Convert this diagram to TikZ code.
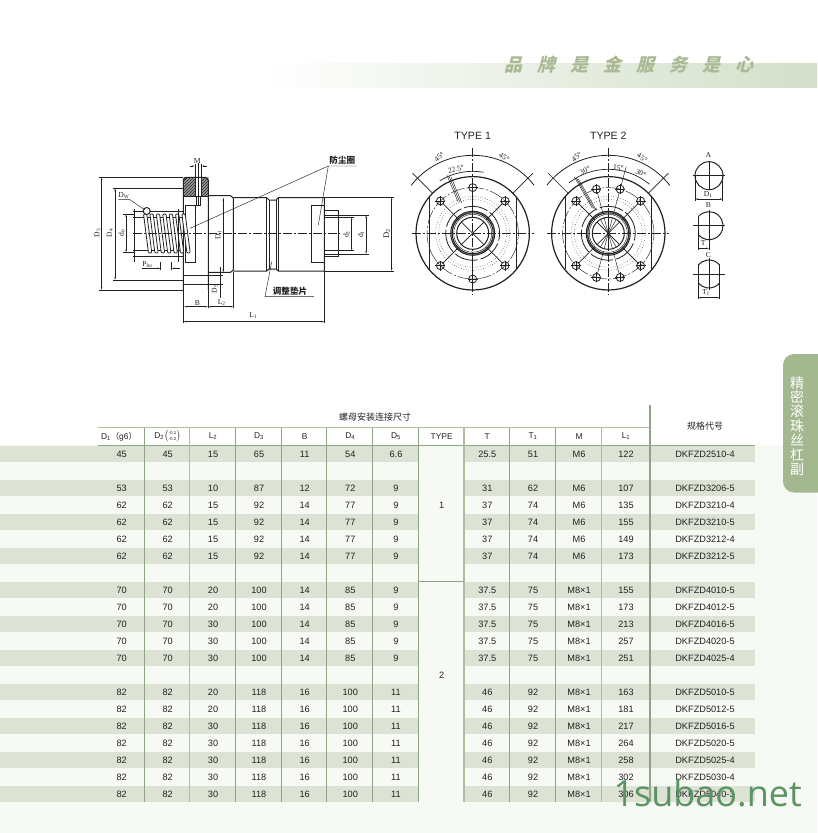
\documentclass[tikz,border=0pt]{standalone}
\usepackage{fontspec}
\setmainfont{Liberation Sans}
\newfontfamily\cjkfont{Noto Sans CJK SC}
\newfontfamily\bannerfont[LetterSpace=83]{Noto Sans CJK SC}
\newfontfamily\drawfont{Liberation Serif}
\newfontfamily\markfont{Open Sans}
\usetikzlibrary{patterns,arrows.meta,calc}
\definecolor{tint}{HTML}{F7FAF4}
\definecolor{strip}{HTML}{DCE3D5}
\definecolor{rule}{HTML}{AEBDA2}
\definecolor{ruledark}{HTML}{8FA385}
\definecolor{tabgreen}{HTML}{A3B88F}
\definecolor{bannergreen}{HTML}{D3DFC9}
\definecolor{bannertext}{HTML}{A9BA94}
\definecolor{markgreen}{HTML}{5A9463}
\definecolor{ink}{HTML}{222222}
\newcommand{\tolpair}{$\left(\vcenter{\hbox{\fontsize{4.5}{5}\selectfont\shortstack{-0.1\\-0.2}}}\right)$}
\begin{document}
\begin{tikzpicture}[x=1pt,y=1pt,>={Stealth[length=3pt,width=1.4pt]},
  cell/.style={font=\fontsize{9.2}{10}\selectfont,text=ink,inner sep=0pt},
  headcell/.style={font=\fontsize{8.4}{10}\selectfont,text=ink,inner sep=0pt},
  cjkcell/.style={font=\cjkfont\fontsize{9}{10}\selectfont,text=ink,inner sep=0pt},
  lab/.style={font=\drawfont\fontsize{7.6}{8}\selectfont,text=ink,inner sep=0pt},
  cjklab/.style={font=\cjkfont\bfseries\fontsize{8.6}{10}\selectfont,text=ink,inner sep=0pt},
  typelab/.style={font=\fontsize{10.6}{12}\selectfont,text=ink,inner sep=0pt},
  outl/.style={draw=ink,line width=1pt},
  thinl/.style={draw=ink,line width=.45pt},
  centerl/.style={draw=ink,line width=.6pt,dash pattern=on 9pt off 2pt on 2pt off 2pt},
  dimn/.style={draw=ink,line width=.45pt,<->}]
\useasboundingbox (0,0) rectangle (817,-833);
% backgrounds
\fill[white] (0,0) rectangle (817,-833);
\fill[tint] (0,-445) rectangle (817,-833);
\shade[left color=white,right color=bannergreen,draw=none] (260,-63) rectangle (817,-87);
\node[font=\bannerfont\bfseries\fontsize{18}{20}\selectfont,text=bannertext,inner sep=0pt,xslant=.25] (bannertitle) at (631,-65) {品牌是金服务是心};
\fill[tabgreen,rounded corners=11pt] (783,-354) rectangle (830,-492.5);
\node[font=\cjkfont\fontsize{14}{14.4}\selectfont,text=white,inner sep=0pt,align=center] (sidetab) at (797,-426) {精\\密\\滚\\珠\\丝\\杠\\副};
% main drawing, flange and hatching
\fill[ink!45] (183.3,-177.3) rectangle (195,-196) (201.7,-177.3) rectangle (208.3,-196);
\path[pattern=north east lines,pattern color=ink] (183.3,-177.3) rectangle (195,-196);
\path[pattern=north east lines,pattern color=ink] (201.7,-177.3) rectangle (208.3,-196);
\draw[outl] (186,-177.3) -- (205.5,-177.3) -- (208.3,-180) -- (208.3,-290) (186,-177.3) -- (183.3,-180) -- (183.3,-290);
\draw[outl] (183.3,-196) -- (208.3,-196);
\draw[thinl] (195,-177.3) -- (195,-196) (201.7,-177.3) -- (201.7,-196);
\draw[thinl] (196.5,-196) -- (196.5,-205) -- (200.3,-205) -- (200.3,-196);
\draw[outl] (185,-205.7) rectangle (195.7,-262.3);
\draw[outl] (208.3,-195.7) -- (230.5,-195.7) -- (233.3,-198) -- (233.3,-270) -- (230.5,-272.3) -- (208.3,-272.3);
\draw[outl] (233.3,-197.7) -- (266.7,-197.7) -- (269,-200) -- (276,-200) -- (278.3,-197.7) -- (324.3,-197.7) -- (324.3,-271) -- (278.3,-271) -- (276,-269) -- (269,-269) -- (266.7,-271) -- (233.3,-271);
\draw[outl] (266.7,-197.7) -- (266.7,-271) (278.3,-197.7) -- (278.3,-271);
\draw[thinl] (269,-200) -- (269,-269) (276,-200) -- (276,-269);
\draw[outl] (324.3,-205.7) -- (311.7,-205.7) -- (311.7,-262.3) -- (324.3,-262.3);
% screw shaft, right end
\draw[outl] (324.3,-210.7) -- (338.3,-210.7) -- (338.3,-256.7) -- (324.3,-256.7);
\draw[outl] (324.3,-215) -- (338.3,-215) (324.3,-217.3) -- (338.3,-217.3) (324.3,-250.7) -- (338.3,-250.7) (324.3,-254) -- (338.3,-254);
\draw[thinl] (338.3,-217.3) -- (354,-217.3) (338.3,-250.7) -- (354,-250.7) (338.3,-215) -- (369,-215) (338.3,-254) -- (369,-254);
% screw shaft, left end and coils
\draw[outl] (133.3,-211) -- (183.3,-211) (133.3,-217.5) -- (183.3,-217.5) (133.3,-250) -- (183.3,-250) (133.3,-256) -- (183.3,-256);
\foreach \i in {0,...,6}
  \draw[outl,line width=.8pt,fill=white,rounded corners=1pt] ({143.5+6.4*\i},-214) -- ({146.8+6.4*\i},-214) -- ({151.8+6.4*\i},-253) -- ({148.5+6.4*\i},-253) -- cycle;
\draw[thinl] (134,-209) -- (134,-262) (178,-209) -- (178,-262);
\draw[outl,fill=white] (146.7,-211) circle (3.5);
\draw[centerl] (133,-233.7) -- (340,-233.7);
% dimension lines
\draw[thinl] (99,-177.3) -- (183.3,-177.3) (99,-290) -- (183.3,-290);
\draw[dimn] (101.7,-177.3) -- (101.7,-290);
\draw[thinl] (112.7,-188.3) -- (183.3,-188.3) (112.7,-280) -- (183.3,-280);
\draw[dimn] (115,-188.3) -- (115,-280);
\draw[thinl] (123.3,-214) -- (134,-214) (123.3,-252.3) -- (134,-252.3);
\draw[dimn] (126,-214) -- (126,-252.3);
\draw[dimn] (223.3,-197.7) -- (223.3,-272.3);
\draw[thinl] (183.3,-275.7) -- (222.5,-275.7) (183.3,-284.3) -- (222.5,-284.3);
\draw[thinl] (220.7,-267) -- (220.7,-298);
\draw[thinl] (324.3,-197.3) -- (394,-197.3) (324.3,-271) -- (394,-271);
\draw[dimn] (391.7,-197.3) -- (391.7,-271);
\draw[dimn] (351.7,-217.3) -- (351.7,-250.7);
\draw[dimn] (366,-215) -- (366,-254);
\draw[thinl] (195,-164) -- (195,-177.3) (201.7,-164) -- (201.7,-177.3);
\draw[thinl,->] (190,-166) -- (195,-166);
\draw[thinl,->] (207,-166) -- (201.7,-166);
\draw[thinl] (198.3,-163) -- (198.3,-205);
\draw[thinl] (160.7,-262) -- (160.7,-270) (171.7,-262) -- (171.7,-270);
\draw[thinl,->] (142,-268.3) -- (160.7,-268.3);
\draw[thinl,->] (180,-268.3) -- (171.7,-268.3);
\draw[thinl] (183.3,-290) -- (183.3,-323) (324.3,-271) -- (324.3,-323);
\draw[outl] (208,-290) -- (208,-308);
\draw[thinl] (233.3,-272) -- (233.3,-308);
\draw[dimn] (184,-306.7) -- (208,-306.7);
\draw[dimn] (208.3,-306.7) -- (233.3,-306.7);
\draw[dimn] (183.3,-321.7) -- (324.3,-321.7);
% labels of the main drawing
\node[lab] (labm) at (197.3,-161.3) {M};
\node[lab] (labdw) at (123.8,-195.7) {D\textsubscript{W}};
\node[lab,rotate=90] (labdc) at (97.3,-233) {D\textsubscript{3}};
\node[lab,rotate=90] (labdd) at (110,-233) {D\textsubscript{4}};
\node[lab,rotate=90] (labd0) at (121.7,-233) {d\textsubscript{0}};
\node[lab,rotate=90] (labda) at (218.3,-235) {D\textsubscript{1}};
\node[lab,rotate=90] (labde) at (215,-289) {D\textsubscript{5}};
\node[lab,rotate=90] (labd2) at (346.5,-234.5) {d\textsubscript{2}};
\node[lab,rotate=90] (labd1) at (361,-234.5) {d\textsubscript{1}};
\node[lab,rotate=90,font=\drawfont\fontsize{8.6}{9}\selectfont] (labdb) at (386.7,-233.7) {D\textsubscript{2}};
\node[lab] (labpho) at (147.5,-264.3) {P\textsubscript{ho}};
\node[lab] (labb) at (197.3,-302.7) {B};
\node[lab] (labl2) at (221.7,-302.7) {L\textsubscript{2}};
\node[lab] (labl1) at (253.3,-315.7) {L\textsubscript{1}};
\node[cjklab] (labseal) at (342.3,-160) {防尘圈};
\node[cjklab] (labpad) at (290,-291) {调整垫片};
% leaders
\coordinate (sealknee) at (328.3,-166);
\coordinate (sealend) at (356.7,-166);
\coordinate (sealleft) at (190,-228.3);
\coordinate (sealright) at (318.3,-225);
\coordinate (padknee) at (265,-296.7);
\coordinate (padend) at (314,-296.7);
\coordinate (padtip) at (271.7,-261.7);
\coordinate (dwknee) at (129.3,-199.3);
\coordinate (dwend) at (118.3,-199.3);
\coordinate (dwtip) at (145,-210);
\draw[thinl] (sealend) -- (sealknee) -- (sealleft);
\draw[thinl] (sealknee) -- (sealright);
\draw[thinl] (padend) -- (padknee) -- (padtip);
\draw[thinl] (dwend) -- (dwknee) -- (dwtip);
% flange views
\foreach \cx/\holes in {472.7/{90,270,45,135,225,315},608.3/{45,75,105,135,225,255,285,315}}{
\begin{scope}[shift={(\cx,-233.3)}]
\draw[outl,line width=1.2pt] (0,0) circle (56.7);
\draw[outl] (-43.3,-36) -- (-43.3,36) (43.3,-36) -- (43.3,36);
\draw[centerl,thinl,dash pattern=on 14pt off 2pt on 2pt off 2pt] (0,0) circle (45.7);
\draw[draw=ink,line width=.5pt,dotted] (0,0) circle (37);
\draw[draw=ink,line width=.5pt,dotted] (0,0) circle (34);
\draw[draw=ink,line width=.8pt,dash pattern=on 24pt off 3pt] (0,0) circle (27);
\draw[outl] (0,0) circle (22) (0,0) circle (20.5);
\draw[thinl] (0,0) circle (19);
\draw[outl] (0,0) circle (16);
\foreach \a in {45,135,225,315} \draw[thinl] (\a:-16) -- (\a:16) (\a:20) -- (\a:43);
\foreach \a in \holes {
  \draw[thinl] (\a:19) -- (\a:42);
  \draw[outl,line width=.8pt] (\a:45.7) circle (4);
  \draw[thinl] ($(\a:45.7)+(-5,0)$) -- ($(\a:45.7)+(5,0)$);
  \draw[thinl] ($(\a:45.7)+(0,-5)$) -- ($(\a:45.7)+(0,5)$);
}
\draw[centerl] (-61,0) -- (61,0);
\draw[centerl] (0,85) -- (0,-62);
\draw[outl,line width=.8pt] (38:78) arc (38:142:78);
\draw[thinl,line width=.7pt] (45:56.7) -- (45:85) (135:56.7) -- (135:85);
\end{scope}
}
% extra lines of type 1
\draw[outl,line width=.7pt] ($(472.7,-233.3)+(80:62)$) arc (80:122:62);
\foreach \o in {-2,0,2}
  \draw[thinl] ($(472.7,-233.3)+(112.5:34)+(\o,-.4*\o)$) -- ($(472.7,-233.3)+(112.5:62)+(\o,-.4*\o)$);
% extra lines of type 2
\draw[outl,line width=.7pt] ($(608.3,-233.3)+(50:64)$) arc (50:128:64);
\foreach \o in {-2,0,2}
  \draw[thinl] ($(608.3,-233.3)+(120:28)+(\o,-.55*\o)$) -- ($(608.3,-233.3)+(120:64)+(\o,-.55*\o)$);
\foreach \a in {60,75,90,105,120}
  \draw[thinl] ($(608.3,-233.3)+(\a:-16)$) -- ($(608.3,-233.3)+(\a:16)$);
\draw[thinl] ($(608.3,-233.3)+(75:50)$) -- ($(608.3,-233.3)+(75:69)$);
\node[typelab] (typeone) at (472.7,-136) {TYPE 1};
\node[typelab] (typetwo) at (608.3,-136) {TYPE 2};
\node[lab,rotate=40] (anga) at (439.3,-156.7) {45°};
\node[lab,rotate=-32] (angb) at (504.3,-157.3) {45°};
\node[lab,rotate=15] (angc) at (456,-169) {22.5°};
\node[lab,rotate=40] (angd) at (576.7,-156.7) {45°};
\node[lab,rotate=-32] (ange) at (642.3,-157.7) {45°};
\node[lab,rotate=25] (angf) at (585,-170.5) {30°};
\node[lab,rotate=-5] (angg) at (618.3,-167.7) {15°};
\node[lab,rotate=-25] (angh) at (641,-173.3) {30°};
% small views
\draw[outl] (709,-175.7) circle (14);
\draw[outl] (693.3,-175.7) -- (725,-175.7);
\draw[thinl] (709,-160.7) -- (709,-190);
\draw[thinl] (695,-176) -- (695,-201) (722.7,-176) -- (722.7,-201);
\draw[dimn] (695,-199) -- (722.7,-199);
\draw[outl] ($(709,-225.7)+(140:14)$) arc (140:-140:14);
\draw[outl] (698.3,-216.7) -- (698.3,-250);
\draw[thinl] (693.3,-225.7) -- (725,-225.7) (709,-210) -- (709,-250);
\draw[thinl,->] (698.3,-248.3) -- (709,-248.3);
\draw[outl] ($(709,-274)+(40:14)$) arc (40:140:14);
\draw[outl] ($(709,-274)+(-40:14)$) arc (-40:-140:14);
\draw[outl] (698.3,-265) -- (698.3,-299.3) (719.7,-265) -- (719.7,-299.3);
\draw[thinl] (693.3,-274) -- (725,-274) (709,-258) -- (709,-290);
\draw[dimn] (698.3,-297.7) -- (719.7,-297.7);
\node[lab] (viewa) at (708.3,-155) {A};
\node[lab,fill=white,inner sep=.3pt] (labviewa) at (708.3,-195) {D\textsubscript{1}};
\node[lab] (viewb) at (708.3,-205) {B};
\node[lab] (labviewb) at (703.3,-243.3) {T};
\node[lab] (viewc) at (708.3,-255) {C};
\node[lab] (labviewc) at (706,-292.7) {T\textsubscript{1}};
% table strips
\foreach \rw in {0,2,4,...,20}{
  \fill[strip] (0,{-445.5-17*\rw}) rectangle (419,{-462-17*\rw});
  \fill[strip] (464,{-445.5-17*\rw}) rectangle (755,{-462-17*\rw});
}
% table rules
\fill[white] (98,-428) rectangle (650,-445);
\draw[rule,line width=1.2pt] (98,-427.7) -- (650,-427.7);
\draw[ruledark,line width=1.2pt] (98,-445.7) -- (755,-445.7);
\foreach \cx in {144.3,235.3,281.3,326.7,372.7,418.3,509.3,555.3}
  \draw[ruledark,line width=.7pt] (\cx,-428) -- (\cx,-802);
\foreach \cx in {189.7,464,601.3}
  \draw[rule,line width=1.3pt] (\cx,-428) -- (\cx,-802);
\draw[ruledark,line width=1.5pt] (650,-405) -- (650,-802);
\draw[ruledark,line width=.7pt] (418.3,-581.3) -- (464,-581.3);
% table header
\node[cjkcell] (headtitle) at (375,-417) {螺母安装连接尺寸};
\node[cjkcell] (headcode) at (705,-426) {规格代号};
\node[headcell] (heada) at (119,-436.3) {D\textsubscript{1}{\cjkfont（}g6{\cjkfont）}};
\node[headcell] (headb) at (167.7,-436.3) {D\textsubscript{2}\tolpair};
\node[headcell] (headc) at (213,-436.3) {L\textsubscript{2}};
\node[headcell] (headd) at (259,-436.3) {D\textsubscript{3}};
\node[headcell] (heade) at (304.7,-436.3) {B};
\node[headcell] (headf) at (350.3,-436.3) {D\textsubscript{4}};
\node[headcell] (headg) at (396,-436.3) {D\textsubscript{5}};
\node[headcell] (headh) at (441.7,-436.3) {TYPE};
\node[headcell] (headi) at (487.3,-436.3) {T};
\node[headcell] (headj) at (533,-436.3) {T\textsubscript{1}};
\node[headcell] (headk) at (579,-436.3) {M};
\node[headcell] (headl) at (626,-436.3) {L\textsubscript{1}};
% table body
\foreach \rw/\va/\vb/\vc/\vd/\ve/\vf/\vg/\vh/\vi/\vj/\vk/\vl in {
  0/45/45/15/65/11/54/6.6/25.5/51/M6/122/DKFZD2510-4,
  2/53/53/10/87/12/72/9/31/62/M6/107/DKFZD3206-5,
  3/62/62/15/92/14/77/9/37/74/M6/135/DKFZD3210-4,
  4/62/62/15/92/14/77/9/37/74/M6/155/DKFZD3210-5,
  5/62/62/15/92/14/77/9/37/74/M6/149/DKFZD3212-4,
  6/62/62/15/92/14/77/9/37/74/M6/173/DKFZD3212-5,
  8/70/70/20/100/14/85/9/37.5/75/M8×1/155/DKFZD4010-5,
  9/70/70/20/100/14/85/9/37.5/75/M8×1/173/DKFZD4012-5,
  10/70/70/30/100/14/85/9/37.5/75/M8×1/213/DKFZD4016-5,
  11/70/70/30/100/14/85/9/37.5/75/M8×1/257/DKFZD4020-5,
  12/70/70/30/100/14/85/9/37.5/75/M8×1/251/DKFZD4025-4,
  14/82/82/20/118/16/100/11/46/92/M8×1/163/DKFZD5010-5,
  15/82/82/20/118/16/100/11/46/92/M8×1/181/DKFZD5012-5,
  16/82/82/30/118/16/100/11/46/92/M8×1/217/DKFZD5016-5,
  17/82/82/30/118/16/100/11/46/92/M8×1/264/DKFZD5020-5,
  18/82/82/30/118/16/100/11/46/92/M8×1/258/DKFZD5025-4,
  19/82/82/30/118/16/100/11/46/92/M8×1/302/DKFZD5030-4,
  20/82/82/30/118/16/100/11/46/92/M8×1/306/DKFZD5040-3}{
  \node[cell] (ra\rw) at (121.7,{-454.3-17*\rw}) {\va};
  \node[cell] (rb\rw) at (167.7,{-454.3-17*\rw}) {\vb};
  \node[cell] (rc\rw) at (213,{-454.3-17*\rw}) {\vc};
  \node[cell] (rd\rw) at (259,{-454.3-17*\rw}) {\vd};
  \node[cell] (re\rw) at (304.7,{-454.3-17*\rw}) {\ve};
  \node[cell] (rf\rw) at (350.3,{-454.3-17*\rw}) {\vf};
  \node[cell] (rg\rw) at (396,{-454.3-17*\rw}) {\vg};
  \node[cell] (rh\rw) at (487.3,{-454.3-17*\rw}) {\vh};
  \node[cell] (ri\rw) at (533,{-454.3-17*\rw}) {\vi};
  \node[cell] (rj\rw) at (579,{-454.3-17*\rw}) {\vj};
  \node[cell] (rk\rw) at (626,{-454.3-17*\rw}) {\vk};
  \node[cell] (rl\rw) at (705,{-454.3-17*\rw}) {\vl};
}
\node[cell] (typea) at (441.7,-505) {1};
\node[cell] (typeb) at (441.7,-675) {2};
% watermark
\node[font=\markfont\fontsize{36}{38}\selectfont,text=markgreen,inner sep=0pt,anchor=base east] (watermark) at (802,-806) {1subao.net};
\end{tikzpicture}
\end{document}
